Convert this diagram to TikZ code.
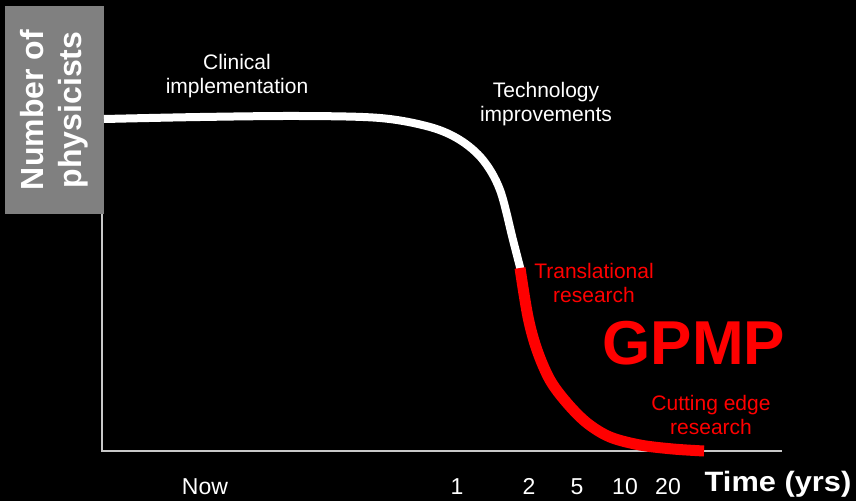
\documentclass[tikz,border=0pt]{standalone}
\usepackage{fontspec}
\setmainfont{Liberation Sans}
\definecolor{boxgray}{HTML}{808080}
\definecolor{axisgray}{HTML}{C8C8C8}
\definecolor{pred}{HTML}{FF0000}
\tikzset{
  x=1pt, y=-1pt,
  lbl/.style={inner sep=0pt, align=center, font=\fontsize{21}{24}\selectfont},
  wlbl/.style={lbl, text=white},
  rlbl/.style={lbl, text=pred},
  tick/.style={inner sep=0pt, anchor=base, text=white, font=\fontsize{23}{26}\selectfont},
  axisline/.style={draw=axisgray, line width=1.5pt},
}
\begin{document}
\begin{tikzpicture}
\fill[black] (0,0) rectangle (856,501);
\useasboundingbox (0,0) rectangle (856,501);
% axes
\coordinate (origin) at (102,451);
\coordinate (ytop) at (102,214);
\coordinate (xend) at (782,451);
\draw[axisline] (ytop) -- (origin) -- (xend);
% y label box
\node[fill=boxgray, rotate=90, minimum width=208pt, minimum height=99pt, inner sep=0pt,
      text=white, align=center, font=\bfseries\fontsize{32}{38}\selectfont]
  (ylab) at (54.5,110) {Number of\\physicists};
% curve
\draw[white, line width=8pt] plot[smooth, tension=0.55] coordinates
  {(104,119) (200,117) (300,116) (380,118) (430,127) (460,140) (483,160) (500,190) (513,240) (521,271)};
\draw[pred, line width=11pt] plot[smooth, tension=0.55] coordinates
  {(520,268) (528,317) (537,350) (550,380) (567,403) (587,423) (610,437) (640,445) (673,449) (704,451)};
% labels
\node[wlbl] (clin) at (237,76) {Clinical\\implementation};
\node[wlbl] (tech) at (546,104) {Technology\\improvements};
\node[rlbl] (trans) at (594,283) {Translational\\research};
\node[inner sep=0pt, text=pred, font=\bfseries\fontsize{62}{70}\selectfont] (gpmp) at (694,343) {GPMP};
\node[rlbl] (cut) at (711,415) {Cutting edge\\research};
% x ticks
\node[tick] (now) at (205,494) {Now};
\node[tick] (t1) at (457,494) {1};
\node[tick] (t2) at (529,494) {2};
\node[tick] (t5) at (577,494) {5};
\node[tick] (t10) at (625,494) {10};
\node[tick] (t20) at (668,494) {20};
\node[inner sep=0pt, anchor=base, text=white, font=\bfseries\fontsize{28}{32}\selectfont]
  (xlab) at (778,491) {\scalebox{1.1}[1]{Time (yrs)}};
\end{tikzpicture}
\end{document}
